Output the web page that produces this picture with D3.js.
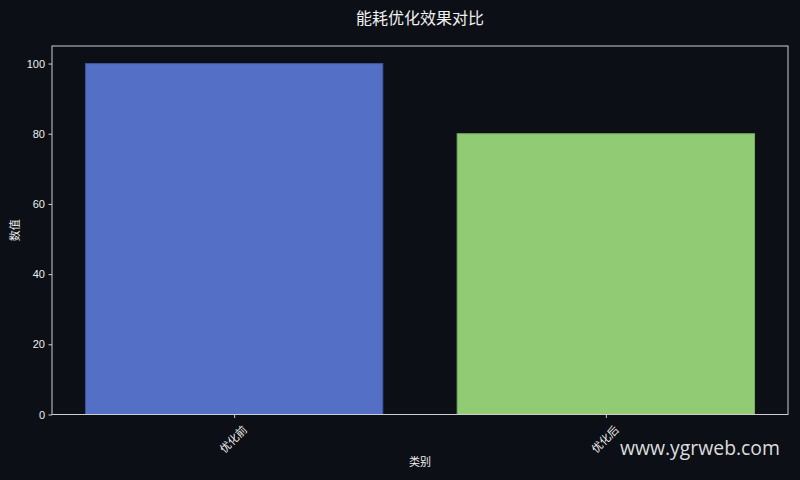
<!DOCTYPE html>
<html><head><meta charset="utf-8">
<script src="https://cdn.jsdelivr.net/npm/d3@7/dist/d3.min.js"></script>
<style>
html,body{margin:0;padding:0;background:#0c0f16;}
svg{display:block;}
</style></head>
<body>
<svg id="c" width="800" height="480"></svg>
<script>
const categories = ["优化前", "优化后"];
const values = [100, 80];
const barColors = ["#5470c6", "#91cc75"];
const edgeColors = ["#3b549e", "#79b05e"];
const yTicks = [0, 20, 40, 60, 80, 100];
const title = "能耗优化效果对比";
const xLabel = "类别";
const yLabel = "数值";
const watermark = "www.ygrweb.com";

const W = 800, H = 480;
const m = {left: 52, right: 12, top: 46, bottom: 65.5};
const svg = d3.select("#c");
svg.append("rect").attr("width", W).attr("height", H).attr("fill", "#0c0f16");

const x = d3.scaleLinear().domain([-0.49, categories.length - 1 + 0.49]).range([m.left, W - m.right]);
const y = d3.scaleLinear().domain([0, 105]).range([H - m.bottom, m.top]);
const bw = 0.8;
const fontLat = "'Liberation Sans', Arial, sans-serif";
const fontCJK = "'Noto Sans CJK SC', sans-serif";
const txt = "#eeeeee";

svg.append("g").selectAll("rect").data(values).join("rect")
  .attr("x", (d, i) => x(i - bw / 2))
  .attr("width", (d, i) => x(i + bw / 2) - x(i - bw / 2))
  .attr("y", d => y(d))
  .attr("height", d => y(0) - y(d))
  .attr("fill", (d, i) => barColors[i])
  .attr("stroke", (d, i) => edgeColors[i])
  .attr("stroke-width", 1);

// frame
svg.append("rect")
  .attr("x", m.left).attr("y", m.top)
  .attr("width", W - m.right - m.left).attr("height", H - m.bottom - m.top)
  .attr("fill", "none").attr("stroke", "#cfcfcf").attr("stroke-width", 1);

// y axis
const ya = svg.append("g").attr("transform", `translate(${m.left},0)`)
  .call(d3.axisLeft(y).tickValues(yTicks).tickSize(3.5).tickPadding(3.5).tickFormat(d3.format("d")));
ya.select(".domain").remove();
ya.selectAll("line").attr("stroke", "#cfcfcf");
ya.selectAll("text").attr("fill", txt).style("font-family", fontLat).style("font-size", "11px");

// x axis
const xa = svg.append("g").attr("transform", `translate(0,${H - m.bottom})`)
  .call(d3.axisBottom(x).tickValues(categories.map((c, i) => i)).tickSize(3.5).tickFormat(i => categories[i]));
xa.select(".domain").remove();
xa.selectAll("line").attr("stroke", "#cfcfcf");
xa.selectAll("text")
  .attr("fill", txt).style("font-family", fontCJK).style("font-size", "11px")
  .attr("text-anchor", "middle").attr("dy", null).attr("y", 0)
  .attr("transform", "translate(-2,24) rotate(-45)")
  .attr("dominant-baseline", "central");

// labels
svg.append("text").attr("x", (m.left + W - m.right) / 2).attr("y", 24)
  .attr("text-anchor", "middle").attr("fill", "#f0f0f0")
  .style("font-family", fontCJK).style("font-size", "16px").text(title);
svg.append("text").attr("x", (m.left + W - m.right) / 2).attr("y", 466)
  .attr("text-anchor", "middle").attr("fill", txt)
  .style("font-family", fontCJK).style("font-size", "11px").text(xLabel);
svg.append("text").attr("transform", `translate(19,${(m.top + H - m.bottom) / 2}) rotate(-90)`)
  .attr("text-anchor", "middle").attr("fill", txt)
  .style("font-family", fontCJK).style("font-size", "11px").text(yLabel);

// watermark
svg.append("text").attr("x", 780).attr("y", 455).attr("text-anchor", "end")
  .attr("fill", "#dcdcdc").style("font-family", "'Open Sans', 'Noto Sans', sans-serif")
  .style("font-size", "19.4px").text(watermark);
</script>
</body></html>
